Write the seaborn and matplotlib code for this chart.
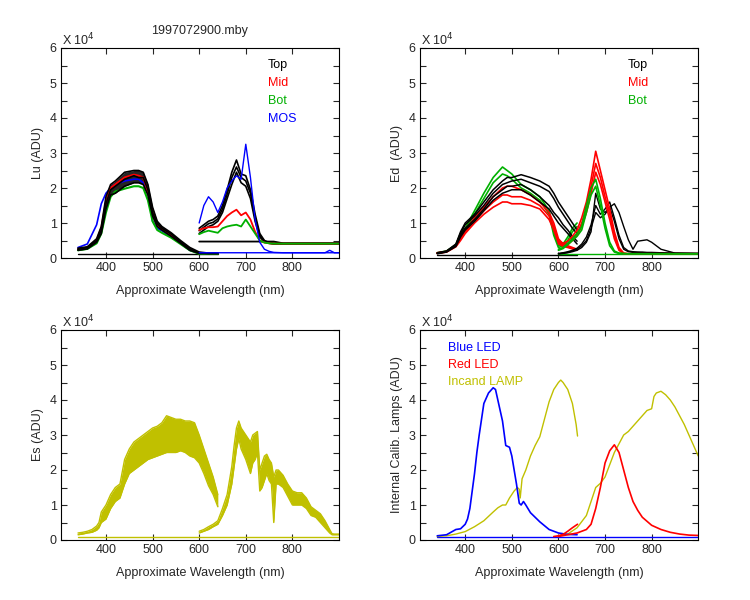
import numpy as np
import pandas as pd
import seaborn as sns
import matplotlib.pyplot as plt
from matplotlib.ticker import MultipleLocator

sns.set_style("ticks")
plt.rcParams['font.family'] = ['Liberation Sans', 'DejaVu Sans']
plt.rcParams['font.size'] = 9

BLACK = "#000000"
RED = "#ff0000"
GREEN = "#00b000"
BLUE = "#0000ff"
OLIVE = "#c0c000"

# ---------------- Lu panel (values in 1e4 ADU) ----------------
lu_wl_a = [340, 360, 380, 390, 400, 410, 420, 440, 460, 470, 480, 490, 500, 510, 520, 540, 560, 580, 600, 620, 640]
lu_top_1 = [0.28, 0.32, 0.55, 0.9, 1.75, 2.1, 2.2, 2.45, 2.5, 2.5, 2.45, 2.1, 1.45, 1.05, 0.9, 0.72, 0.5, 0.3, 0.17, 0.14, 0.14]
lu_top_2 = [0.25, 0.3, 0.5, 0.8, 1.55, 1.95, 2.05, 2.25, 2.35, 2.3, 2.3, 1.95, 1.3, 0.98, 0.85, 0.68, 0.46, 0.26, 0.15, 0.13, 0.13]
lu_top_3 = [0.22, 0.26, 0.45, 0.7, 1.4, 1.8, 1.85, 2.05, 2.15, 2.15, 2.1, 1.8, 1.2, 0.9, 0.8, 0.62, 0.42, 0.22, 0.13, 0.13, 0.13]
lu_mid = [0.25, 0.3, 0.5, 0.85, 1.6, 2.0, 2.1, 2.3, 2.38, 2.35, 2.3, 1.9, 1.3, 0.95, 0.82, 0.65, 0.45, 0.25, 0.14, 0.13, 0.13]
lu_bot = [0.22, 0.26, 0.42, 0.7, 1.3, 1.75, 1.9, 1.98, 2.05, 2.05, 2.0, 1.65, 1.05, 0.8, 0.72, 0.58, 0.4, 0.22, 0.12, 0.12, 0.12]
lu_mos = [0.3, 0.4, 0.95, 1.55, 1.85, 2.0, 2.1, 2.2, 2.25, 2.25, 2.15, 1.9, 1.05, 0.85, 0.78, 0.6, 0.42, 0.22, 0.14, 0.14, 0.14]

lu_wl_b = [600, 610, 620, 630, 640, 650, 660, 670, 680, 690, 700, 710, 720, 730, 740, 750, 760, 780, 800, 850, 900]
lu_top_b_1 = [0.85, 0.95, 1.05, 1.1, 1.2, 1.5, 1.95, 2.45, 2.8, 2.4, 2.35, 1.95, 1.25, 0.7, 0.5, 0.44, 0.42, 0.42, 0.42, 0.42, 0.42]
lu_top_b_2 = [0.78, 0.88, 0.98, 1.02, 1.12, 1.4, 1.82, 2.3, 2.6, 2.3, 2.2, 1.85, 1.15, 0.65, 0.48, 0.43, 0.41, 0.41, 0.41, 0.41, 0.41]
lu_top_b_3 = [0.7, 0.8, 0.9, 0.95, 1.05, 1.3, 1.7, 2.1, 2.45, 2.15, 2.05, 1.7, 1.05, 0.6, 0.46, 0.42, 0.4, 0.4, 0.4, 0.4, 0.4]
lu_mid_b = [0.8, 0.85, 0.88, 0.88, 0.9, 1.05, 1.2, 1.3, 1.38, 1.22, 1.3, 1.1, 0.75, 0.5, 0.44, 0.42, 0.41, 0.41, 0.41, 0.41, 0.41]
lu_bot_b = [0.68, 0.74, 0.78, 0.75, 0.72, 0.85, 0.9, 0.93, 0.95, 0.9, 1.1, 0.9, 0.7, 0.5, 0.44, 0.42, 0.41, 0.41, 0.41, 0.41, 0.41]
lu_mos_b = [1.0, 1.5, 1.75, 1.6, 1.3, 1.6, 2.0, 2.2, 2.35, 2.25, 3.25, 2.3, 1.1, 0.45, 0.25, 0.19, 0.16, 0.15, 0.15, 0.15, 0.15]
lu_dark_wl = [600, 760, 780, 900]
lu_dark = [0.47, 0.47, 0.42, 0.42]
lu_mos_dark_wl = [600, 870, 880, 890, 900]
lu_mos_dark = [0.15, 0.15, 0.22, 0.15, 0.15]
lu_base_wl = [340, 640]
lu_base = [0.11, 0.11]

# ---------------- Ed panel ----------------
ed_wl_a = [340, 360, 380, 390, 400, 420, 440, 460, 480, 490, 500, 520, 540, 560, 580, 590, 600, 610, 620, 630, 640]
ed_top_1 = [0.15, 0.2, 0.4, 0.75, 1.0, 1.25, 1.6, 1.95, 2.2, 2.3, 2.3, 2.38, 2.3, 2.2, 2.05, 1.85, 1.6, 1.4, 1.2, 1.0, 0.8]
ed_top_2 = [0.14, 0.19, 0.38, 0.7, 0.95, 1.2, 1.5, 1.85, 2.1, 2.15, 2.2, 2.25, 2.15, 2.05, 1.9, 1.7, 1.45, 1.25, 1.05, 0.85, 0.7]
ed_top_3 = [0.13, 0.18, 0.35, 0.65, 0.85, 1.1, 1.4, 1.75, 1.95, 2.05, 2.05, 2.1, 1.95, 1.75, 1.5, 1.3, 1.15, 0.95, 0.8, 0.62, 0.48]
ed_top_4 = [0.12, 0.17, 0.33, 0.6, 0.8, 1.05, 1.35, 1.65, 1.85, 1.9, 1.95, 1.95, 1.8, 1.6, 1.4, 1.2, 1.0, 0.85, 0.7, 0.55, 0.4]
ed_mid_1 = [0.15, 0.19, 0.36, 0.6, 0.8, 1.15, 1.45, 1.75, 2.0, 2.05, 2.05, 1.95, 1.8, 1.6, 1.3, 1.0, 0.55, 0.4, 0.35, 0.3, 0.25]
ed_mid_2 = [0.14, 0.18, 0.34, 0.55, 0.75, 1.05, 1.35, 1.6, 1.8, 1.8, 1.75, 1.75, 1.65, 1.5, 1.2, 0.9, 0.48, 0.36, 0.32, 0.28, 0.24]
ed_mid_3 = [0.13, 0.17, 0.32, 0.5, 0.7, 1.0, 1.25, 1.45, 1.6, 1.6, 1.55, 1.55, 1.5, 1.4, 1.1, 0.8, 0.42, 0.33, 0.3, 0.26, 0.22]
ed_bot_1 = [0.15, 0.2, 0.38, 0.7, 0.85, 1.35, 1.85, 2.3, 2.6, 2.5, 2.4, 2.1, 1.95, 1.75, 1.35, 0.75, 0.35, 0.4, 0.6, 0.85, 1.0]
ed_bot_2 = [0.14, 0.19, 0.35, 0.65, 0.8, 1.25, 1.7, 2.15, 2.4, 2.35, 2.25, 2.0, 1.85, 1.65, 1.25, 0.65, 0.3, 0.35, 0.5, 0.75, 0.9]

ed_wl_b = [600, 610, 620, 630, 640, 650, 660, 670, 680, 690, 700, 710, 720, 730, 740, 750, 760, 770, 780, 790, 800, 820, 850, 900]
ed_top_b_1 = [0.13, 0.15, 0.18, 0.22, 0.28, 0.4, 0.6, 0.95, 1.5, 1.25, 1.4, 1.6, 1.15, 0.65, 0.3, 0.2, 0.18, 0.17, 0.17, 0.16, 0.16, 0.15, 0.14, 0.13]
ed_top_b_2 = [0.12, 0.14, 0.16, 0.2, 0.25, 0.35, 0.5, 0.85, 1.3, 1.15, 1.25, 1.45, 1.05, 0.55, 0.25, 0.18, 0.16, 0.16, 0.15, 0.15, 0.15, 0.14, 0.13, 0.13]
ed_top_b_3 = [0.12, 0.13, 0.15, 0.18, 0.22, 0.3, 0.45, 0.75, 1.85, 1.4, 1.3, 1.45, 1.55, 1.3, 0.9, 0.52, 0.25, 0.48, 0.5, 0.52, 0.45, 0.25, 0.14, 0.13]
ed_mid_b_1 = [0.5, 0.42, 0.48, 0.62, 0.8, 1.15, 1.6, 2.25, 3.05, 2.5, 1.95, 1.4, 0.75, 0.3, 0.14, 0.12, 0.12, 0.12, 0.12, 0.12, 0.12, 0.12, 0.12, 0.12]
ed_mid_b_2 = [0.45, 0.38, 0.42, 0.55, 0.7, 1.0, 1.45, 2.05, 2.7, 2.3, 1.75, 1.25, 0.65, 0.25, 0.13, 0.12, 0.12, 0.12, 0.12, 0.12, 0.12, 0.12, 0.12, 0.12]
ed_mid_b_3 = [0.4, 0.35, 0.38, 0.5, 0.65, 0.9, 1.3, 1.85, 2.45, 2.1, 1.6, 1.1, 0.55, 0.22, 0.12, 0.12, 0.12, 0.12, 0.12, 0.12, 0.12, 0.12, 0.12, 0.12]
ed_bot_b_1 = [0.25, 0.3, 0.42, 0.55, 0.7, 0.9, 1.5, 2.0, 2.25, 1.7, 1.0, 0.45, 0.2, 0.14, 0.13, 0.12, 0.12, 0.12, 0.12, 0.12, 0.12, 0.12, 0.12, 0.12]
ed_bot_b_2 = [0.22, 0.27, 0.38, 0.5, 0.62, 0.8, 1.3, 1.8, 2.05, 1.5, 0.85, 0.35, 0.17, 0.13, 0.12, 0.12, 0.12, 0.12, 0.12, 0.12, 0.12, 0.12, 0.12, 0.12]
ed_base_wl = [340, 640]
ed_base = [0.1, 0.1]
ed_bot_base_wl = [600, 900]
ed_bot_base = [0.12, 0.12]

# ---------------- Es panel (envelope of the scans) ----------------
es_wl_a = [340, 350, 360, 370, 380, 385, 390, 400, 410, 420, 430, 440, 450, 460, 470, 480, 490, 500,
           510, 520, 530, 540, 550, 560, 570, 580, 590, 600, 610, 620, 630, 640]
es_lo_a = [0.15, 0.17, 0.2, 0.22, 0.28, 0.35, 0.5, 0.6, 0.9, 1.1, 1.2, 1.6, 1.9, 2.0, 2.1, 2.2, 2.3, 2.35,
           2.4, 2.45, 2.5, 2.5, 2.5, 2.55, 2.5, 2.4, 2.35, 2.2, 1.9, 1.55, 1.3, 0.95]
es_hi_a = [0.2, 0.22, 0.25, 0.3, 0.4, 0.5, 0.8, 1.0, 1.3, 1.5, 1.6, 2.3, 2.6, 2.8, 2.9, 3.0, 3.1, 3.2,
           3.25, 3.35, 3.55, 3.5, 3.45, 3.45, 3.4, 3.4, 3.35, 3.0, 2.6, 2.2, 1.8, 1.3]
es_wl_b = [600, 610, 620, 630, 640, 650, 660, 670, 675, 680, 685, 690, 700, 710, 715, 720, 725, 730, 735, 740,
           745, 750, 755, 760, 765, 770, 780, 790, 800, 810, 820, 830, 840, 850, 860, 870, 880, 885, 890, 900]
es_lo_b = [0.2, 0.25, 0.3, 0.38, 0.45, 0.7, 1.0, 1.6, 2.1, 2.6, 2.9, 2.6, 2.3, 1.9, 2.2, 2.3, 2.5, 1.4, 1.5, 1.7,
           1.9, 1.7, 1.6, 0.5, 1.6, 1.6, 1.5, 1.25, 1.0, 1.0, 1.0, 0.9, 0.7, 0.65, 0.5, 0.35, 0.2, 0.15, 0.15, 0.15]
es_hi_b = [0.25, 0.3, 0.38, 0.45, 0.55, 0.9, 1.3, 2.1, 2.7, 3.2, 3.4, 3.2, 3.0, 2.8, 3.0, 3.05, 3.1, 2.0, 2.2, 2.4,
           2.45, 2.3, 2.2, 1.8, 2.0, 2.0, 1.85, 1.6, 1.4, 1.35, 1.35, 1.2, 0.95, 0.85, 0.75, 0.55, 0.3, 0.18, 0.17, 0.17]
es_base_wl = [340, 900]
es_base = [0.1, 0.1]

# ---------------- Calibration lamps ----------------
blue_wl = [340, 360, 380, 390, 400, 405, 410, 415, 420, 425, 430, 440, 450, 460, 465, 470, 480, 487, 495, 500,
           505, 510, 516, 520, 525, 530, 540, 560, 580, 600, 620, 640]
blue_led = [0.12, 0.15, 0.3, 0.32, 0.45, 0.6, 0.9, 1.4, 1.9, 2.5, 3.0, 3.9, 4.2, 4.35, 4.3, 4.0, 3.4, 2.7, 2.65, 2.4,
            2.0, 1.6, 1.05, 1.0, 1.1, 1.0, 0.78, 0.52, 0.3, 0.2, 0.16, 0.15]
blue_base_wl = [340, 900]
blue_base = [0.1, 0.1]
red_wl_a = [590, 600, 610, 620, 630, 641]
red_led_a = [0.1, 0.12, 0.16, 0.25, 0.35, 0.45]
red_wl_b = [600, 620, 640, 660, 670, 680, 690, 700, 710, 720, 730, 740, 750, 760, 770, 780, 800, 820, 840, 860, 880, 900]
red_led_b = [0.1, 0.15, 0.2, 0.3, 0.45, 0.9, 1.5, 2.2, 2.55, 2.72, 2.5, 2.0, 1.5, 1.1, 0.85, 0.65, 0.42, 0.3, 0.22, 0.17, 0.14, 0.13]
lamp_wl_a = [340, 360, 380, 400, 420, 440, 460, 470, 480, 487, 495, 505, 512, 516, 518, 522, 530, 540, 550, 560,
             570, 580, 590, 600, 605, 610, 620, 630, 638, 641]
lamp_a = [0.1, 0.12, 0.17, 0.24, 0.38, 0.55, 0.8, 0.92, 1.0, 1.0, 1.2, 1.4, 1.5, 1.45, 1.2, 1.75, 2.0, 2.4, 2.7, 2.95,
          3.45, 3.95, 4.3, 4.5, 4.57, 4.5, 4.3, 3.9, 3.3, 2.97]
lamp_wl_b = [600, 620, 640, 660, 670, 680, 690, 700, 710, 720, 730, 740, 750, 760, 770, 780, 790, 800, 805, 810,
             820, 830, 840, 850, 860, 870, 880, 890, 900]
lamp_b = [0.12, 0.17, 0.35, 0.7, 1.1, 1.5, 1.62, 1.8, 2.15, 2.5, 2.75, 3.0, 3.1, 3.25, 3.4, 3.55, 3.7, 3.75, 4.1, 4.2,
          4.25, 4.15, 4.0, 3.8, 3.55, 3.3, 3.0, 2.7, 2.4]


def trace(ax, wl, vals, color, lw=1.0):
    sns.lineplot(x=wl, y=vals, color=color, linewidth=lw, ax=ax,
                 estimator=None, sort=False, legend=False)


def style_axes(ax, ylabel):
    ax.set_xlim(303, 900)
    ax.set_ylim(0, 6)
    ax.yaxis.set_major_locator(MultipleLocator(1))
    ax.yaxis.set_minor_locator(MultipleLocator(0.5))
    ax.set_xticks([400, 500, 600, 700, 800])
    ax.tick_params(which="both", direction="in", top=True, right=True,
                   length=4, width=0.8, labelsize=9, pad=3)
    for s in ax.spines.values():
        s.set_visible(True)
        s.set_linewidth(0.8)
        s.set_color("black")
    ax.set_xlabel("Approximate Wavelength (nm)", fontsize=9, labelpad=8)
    ax.set_ylabel(ylabel, fontsize=9, labelpad=4)
    ax.text(0.005, 1.015, r"X 10$^4$", transform=ax.transAxes, fontsize=9,
            ha="left", va="baseline")


fig = plt.figure(figsize=(7.5, 6), dpi=100)
ax1 = fig.add_axes([0.081, 0.57, 0.371, 0.35])
ax2 = fig.add_axes([0.56, 0.57, 0.371, 0.35])
ax3 = fig.add_axes([0.081, 0.10, 0.371, 0.35])
ax4 = fig.add_axes([0.56, 0.10, 0.371, 0.35])

# Lu
trace(ax1, lu_base_wl, lu_base, BLACK)
trace(ax1, lu_wl_a, lu_mos, BLUE, 1.2)
trace(ax1, lu_wl_a, lu_mid, RED, 1.5)
trace(ax1, lu_wl_a, lu_bot, GREEN, 1.5)
ax1.fill_between(lu_wl_a, lu_top_3, lu_top_1, color=BLACK, lw=0, alpha=0.85)
for v in [lu_top_1, lu_top_2, lu_top_3]:
    trace(ax1, lu_wl_a, v, BLACK, 1.2)
trace(ax1, lu_mos_dark_wl, lu_mos_dark, BLUE)
trace(ax1, lu_dark_wl, lu_dark, BLACK, 1.3)
for v in [lu_top_b_1, lu_top_b_2, lu_top_b_3]:
    trace(ax1, lu_wl_b, v, BLACK, 1.2)
trace(ax1, lu_wl_b, lu_mid_b, RED, 1.3)
trace(ax1, lu_wl_b, lu_bot_b, GREEN, 1.3)
trace(ax1, lu_wl_b, lu_mos_b, BLUE, 1.0)
ax1.set_title("1997072900.mby", fontsize=9, pad=10)
style_axes(ax1, "Lu (ADU)")
for lab, col, yy in [("Top", BLACK, 0.919), ("Mid", RED, 0.833), ("Bot", GREEN, 0.748), ("MOS", BLUE, 0.662)]:
    ax1.text(0.745, yy, lab, color=col, transform=ax1.transAxes, fontsize=9, va="center")

# Ed
trace(ax2, ed_base_wl, ed_base, BLACK)
trace(ax2, ed_bot_base_wl, ed_bot_base, GREEN)
for v in [ed_bot_1, ed_bot_2]:
    trace(ax2, ed_wl_a, v, GREEN, 1.2)
for v in [ed_mid_1, ed_mid_2, ed_mid_3]:
    trace(ax2, ed_wl_a, v, RED, 1.2)
for v in [ed_top_1, ed_top_2, ed_top_3, ed_top_4]:
    trace(ax2, ed_wl_a, v, BLACK, 1.1)
for v in [ed_top_b_1, ed_top_b_2, ed_top_b_3]:
    trace(ax2, ed_wl_b, v, BLACK, 1.0)
for v in [ed_mid_b_1, ed_mid_b_2, ed_mid_b_3]:
    trace(ax2, ed_wl_b, v, RED, 1.2)
for v in [ed_bot_b_1, ed_bot_b_2]:
    trace(ax2, ed_wl_b, v, GREEN, 1.2)
style_axes(ax2, "Ed  (ADU)")
for lab, col, yy in [("Top", BLACK, 0.919), ("Mid", RED, 0.833), ("Bot", GREEN, 0.748)]:
    ax2.text(0.748, yy, lab, color=col, transform=ax2.transAxes, fontsize=9, va="center")

# Es
trace(ax3, es_base_wl, es_base, OLIVE)
ax3.fill_between(es_wl_a, es_lo_a, es_hi_a, color=OLIVE, lw=0)
ax3.fill_between(es_wl_b, es_lo_b, es_hi_b, color=OLIVE, lw=0)
for lo, hi, wl in [(es_lo_a, es_hi_a, es_wl_a), (es_lo_b, es_hi_b, es_wl_b)]:
    trace(ax3, wl, lo, OLIVE, 1.0)
    trace(ax3, wl, hi, OLIVE, 1.0)
style_axes(ax3, "Es (ADU)")

# Lamps
trace(ax4, blue_base_wl, blue_base, BLUE)
trace(ax4, lamp_wl_a, lamp_a, OLIVE, 1.0)
trace(ax4, lamp_wl_b, lamp_b, OLIVE, 1.0)
trace(ax4, blue_wl, blue_led, BLUE, 1.2)
trace(ax4, red_wl_a, red_led_a, RED, 1.2)
trace(ax4, red_wl_b, red_led_b, RED, 1.2)
style_axes(ax4, "Internal Calib. Lamps (ADU)")
for lab, col, yy in [("Blue LED", BLUE, 0.916), ("Red LED", RED, 0.832), ("Incand LAMP", OLIVE, 0.751)]:
    ax4.text(0.1, yy, lab, color=col, transform=ax4.transAxes, fontsize=9, va="center")

fig.savefig("out.png", dpi=100, facecolor="white")
